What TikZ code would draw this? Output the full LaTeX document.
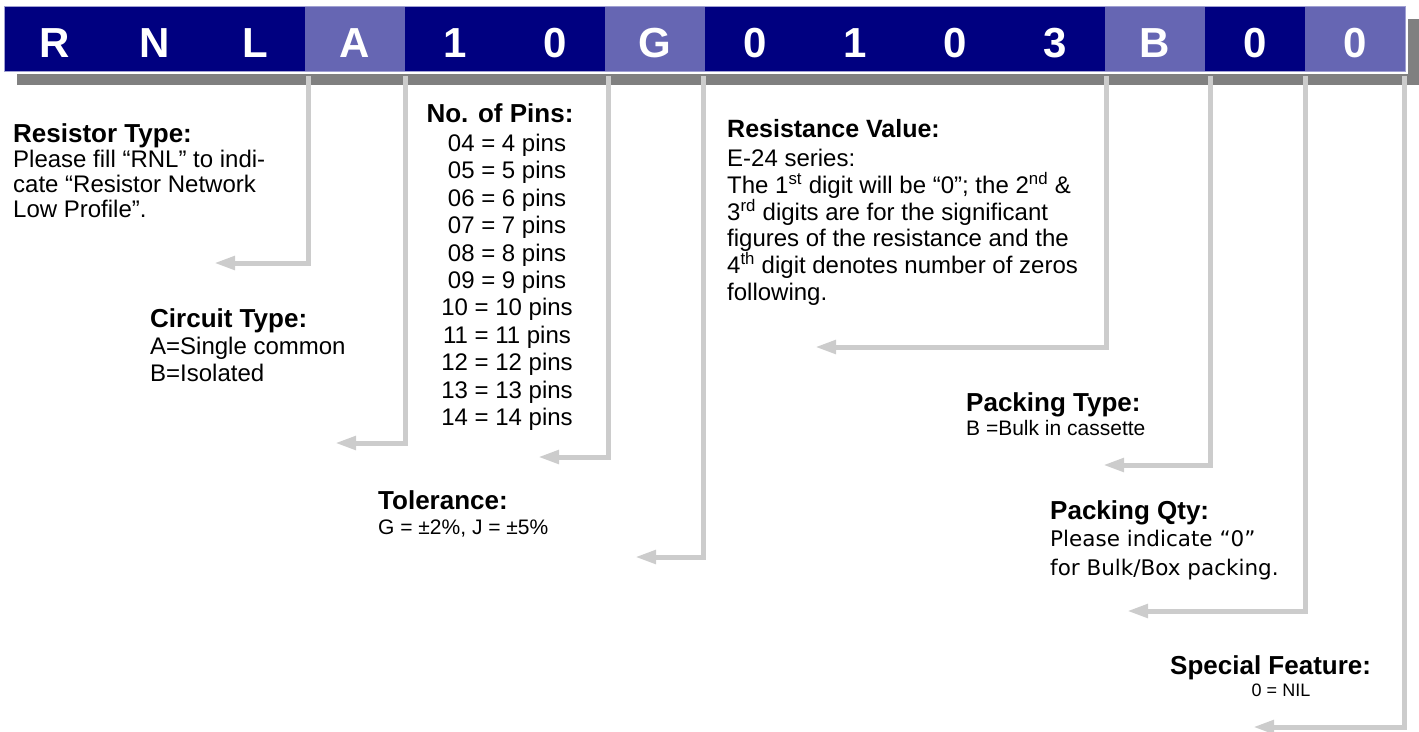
\documentclass[tikz,border=0pt]{standalone}
\usepackage{fontspec}
\setmainfont{Liberation Sans}
\newfontfamily\verdanalike{DejaVu Sans}
\usetikzlibrary{arrows.meta}

\definecolor{barnavy}{RGB}{0,0,128}
\definecolor{barlight}{RGB}{102,102,179}
\definecolor{barshadow}{RGB}{128,128,128}
\definecolor{barrim}{RGB}{160,160,210}
\definecolor{leadgray}{RGB}{204,204,204}

\tikzset{
  cell/.style={minimum width=100pt, minimum height=64pt, inner sep=0pt, text=white,
    font=\bfseries\fontsize{42}{42}\selectfont, text height=36pt, text depth=0pt},
  fieldtitle/.style={anchor=base west, inner sep=0pt, font=\bfseries\fontsize{26}{28}\selectfont},
  fieldtext/.style={anchor=north west, inner sep=0pt, align=left, font=\fontsize{24}{25}\selectfont},
  lead/.style={draw=leadgray, line width=5pt, >={Triangle[length=21pt,width=13pt]}},
}

\begin{document}
\begin{tikzpicture}[x=1pt,y=-1pt]
  \useasboundingbox (0,0) rectangle (1419,731);

  %Code bar
  \fill[barshadow] (17,19) rectangle (1419,85);
  \fill[white] (2,4) rectangle (1408,74);
  \node[cell, fill=barnavy]  (c1)  at (55,39)   {R};
  \node[cell, fill=barnavy]  (c2)  at (155,39)  {N};
  \node[cell, fill=barnavy]  (c3)  at (255,39)  {L};
  \node[cell, fill=barlight] (c4)  at (355,39)  {A};
  \node[cell, fill=barnavy]  (c5)  at (455,39)  {1};
  \node[cell, fill=barnavy]  (c6)  at (555,39)  {0};
  \node[cell, fill=barlight] (c7)  at (655,39)  {G};
  \node[cell, fill=barnavy]  (c8)  at (755,39)  {0};
  \node[cell, fill=barnavy]  (c9)  at (855,39)  {1};
  \node[cell, fill=barnavy]  (c10) at (955,39)  {0};
  \node[cell, fill=barnavy]  (c11) at (1055,39) {3};
  \node[cell, fill=barlight] (c12) at (1155,39) {B};
  \node[cell, fill=barnavy]  (c13) at (1255,39) {0};
  \node[cell, fill=barlight] (c14) at (1355,39) {0};
  \draw[barrim, line width=1pt] (c1.north west) rectangle (c14.south east);

  %Leader lines
  \coordinate (pRes)  at (308,76);  \coordinate (tRes)  at (214,263);
  \coordinate (pCir)  at (405,76);  \coordinate (tCir)  at (335,443);
  \coordinate (pPin)  at (608,76);  \coordinate (tPin)  at (538,457);
  \coordinate (pTol)  at (703,76);  \coordinate (tTol)  at (635,557);
  \coordinate (pVal)  at (1106,76); \coordinate (tVal)  at (815,347);
  \coordinate (pPack) at (1210,76); \coordinate (tPack) at (1103,465);
  \coordinate (pQty)  at (1305,76); \coordinate (tQty)  at (1127,611);
  \coordinate (pSpec) at (1404,76); \coordinate (tSpec) at (1253,727);
  \draw[<-, lead] (tRes) -| (pRes);
  \draw[<-, lead] (tCir) -| (pCir);
  \draw[<-, lead] (tPin) -| (pPin);
  \draw[<-, lead] (tTol) -| (pTol);
  \draw[<-, lead] (tVal) -| (pVal);
  \draw[<-, lead] (tPack) -| (pPack);
  \draw[<-, lead] (tQty) -| (pQty);
  \draw[<-, lead] (tSpec) -| (pSpec);

  %Fields
  \node[fieldtitle] (restype) at (13,142) {Resistor Type:};
  \node[fieldtext] (restypetxt) at (13,150) {Please fill “RNL” to indi-\\cate “Resistor Network\\Low Profile”.};

  \node[fieldtitle] (cirtype) at (150,327) {Circuit Type:};
  \node[fieldtext, font=\fontsize{24}{27}\selectfont] (cirtypetxt) at (150,337) {A=Single common\\B=Isolated};

  \node[fieldtitle, anchor=base] (pins) at (500,122) {No. of Pins:};
  \node[fieldtext, anchor=north, align=center, font=\fontsize{24}{27.4}\selectfont] (pinstxt) at (507,134)
    {04 = 4 pins\\05 = 5 pins\\06 = 6 pins\\07 = 7 pins\\08 = 8 pins\\09 = 9 pins\\10 = 10 pins\\11 = 11 pins\\12 = 12 pins\\13 = 13 pins\\14 = 14 pins};

  \node[fieldtitle] (tol) at (378,509) {Tolerance:};
  \node[fieldtext, font=\fontsize{21}{23}\selectfont] (toltxt) at (378,520) {G = ±2\%, J = ±5\%};

  \node[fieldtitle, font=\bfseries\fontsize{25}{27}\selectfont] (resval) at (727,137) {Resistance Value:};
  \node[fieldtext, font=\fontsize{24}{26.8}\selectfont] (resvaltxt) at (727,149)
    {E-24 series:\\The 1\textsuperscript{st} digit will be “0”; the 2\textsuperscript{nd} \&\\3\textsuperscript{rd} digits are for the significant\\figures of the resistance and the\\4\textsuperscript{th} digit denotes number of zeros\\following.};

  \node[fieldtitle] (packtype) at (966,411) {Packing Type:};
  \node[fieldtext, font=\fontsize{21}{23}\selectfont] (packtypetxt) at (966,420) {B =Bulk in cassette};

  \node[fieldtitle] (packqty) at (1050,519) {Packing Qty:};
  \node[fieldtext, font=\verdanalike\fontsize{21.5}{29}\selectfont] (packqtytxt) at (1050,530) {Please indicate “0”\\for Bulk/Box packing.};

  \node[fieldtitle] (special) at (1170,674) {Special Feature:};
  \node[fieldtext, anchor=north, font=\fontsize{18}{20}\selectfont] (specialtxt) at (1281,684) {0 = NIL};
\end{tikzpicture}
\end{document}
